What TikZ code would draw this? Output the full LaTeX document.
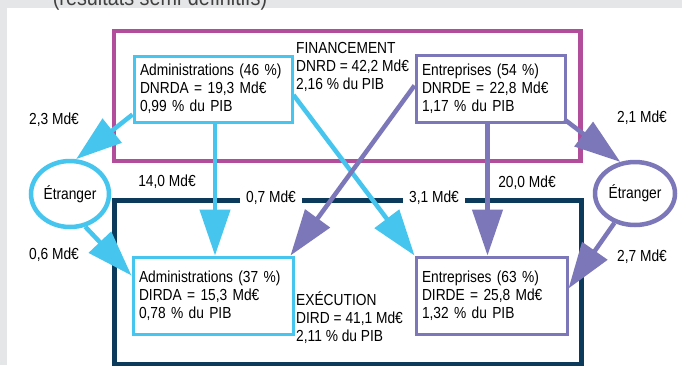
\documentclass[tikz,border=0pt]{standalone}
\usepackage{fontspec}
\setmainfont{Liberation Sans}[FakeStretch=0.86]
\usetikzlibrary{arrows.meta,shapes.geometric}

\definecolor{bggray}{RGB}{229,230,231}
\definecolor{finmag}{RGB}{177,77,155}
\definecolor{execnavy}{RGB}{12,58,90}
\definecolor{admcyan}{RGB}{70,198,238}
\definecolor{entpurple}{RGB}{123,119,184}

\tikzset{
	sector/.style={line width=3pt,fill=white,align=left,inner sep=6pt,text width=#1},
	abroad/.style={ellipse,line width=4.5pt,fill=white,minimum width=78pt,minimum height=66pt,inner sep=0pt},
	flow/.style={line width=4.5pt,-{Triangle[length=46pt,width=30pt]}},
}

\begin{document}
\begin{tikzpicture}[x=1pt,y=-1pt,font=\fontsize{16}{18}\selectfont]
		\useasboundingbox (0,0) rectangle (682,365);
		\fill[bggray] (0,0) rectangle (682,365);
		\fill[white] (7,8) rectangle (682,365);
		\node[text=black!75,anchor=base,font=\fontsize{23}{26}\selectfont] (subtitle) at (160,5) {(résultats semi-définitifs)};
		\draw[finmag,line width=4.5pt] (114,31) rectangle (580.5,161);
		\draw[execnavy,line width=5pt] (114.5,200) rectangle (581.5,364);
		% financement
		\node[sector=146pt,draw=admcyan,minimum height=66pt] (adminF) at (213,89) {Administrations (46 \%)\\DNRDA = 19,3 Md€\\0,99 \% du PIB};
		\node[sector=137pt,draw=entpurple,minimum height=67pt] (entF) at (490.5,88.5) {Entreprises (54 \%)\\DNRDE = 22,8 Md€\\1,17 \% du PIB};
		\node[align=left,anchor=west,inner sep=0pt] (fin) at (296,67) {FINANCEMENT\\DNRD = 42,2 Md€\\2,16 \% du PIB};
		% execution
		\node[sector=148pt,draw=admcyan,minimum height=77pt] (adminE) at (213,295.5) {Administrations (37 \%)\\DIRDA = 15,3 Md€\\0,78 \% du PIB};
		\node[sector=139pt,draw=entpurple,minimum height=77pt] (entE) at (491.5,295.5) {Entreprises (63 \%)\\DIRDE = 25,8 Md€\\1,32 \% du PIB};
		\node[align=left,anchor=west,inner sep=0pt] (exe) at (296,318) {EXÉCUTION\\DIRD = 41,1 Md€\\2,11 \% du PIB};
		% etranger
		\node[abroad,draw=admcyan] (etrL) at (70,194) {Étranger};
		\node[abroad,draw=entpurple,minimum width=80pt,minimum height=63pt] (etrR) at (635,193.5) {Étranger};
		% montants
		\node (l23) at (54,120) {2,3 Md€};
		\node (l06) at (54,255) {0,6 Md€};
		\node (l140) at (167,182) {14,0 Md€};
		\node (l200) at (527,183) {20,0 Md€};
		\node (l21) at (642,118) {2,1 Md€};
		\node (l27) at (642,257) {2,7 Md€};
		\node[fill=white,inner xsep=6pt,inner ysep=1pt] (l07) at (271,198) {0,7 Md€};
		\node[fill=white,inner xsep=6pt,inner ysep=1pt] (l31) at (434,198) {3,1 Md€};
		% flux
		\draw[flow,admcyan] ([yshift=9pt]adminF.south west) -- (etrL.80);
		\draw[flow,admcyan] ([xshift=2pt]adminF.south) -- ([xshift=2pt]adminF.south |- adminE.north);
		\draw[flow,admcyan] ([yshift=-6pt]adminF.east) -- (entE.north west);
		\draw[flow,admcyan] (etrL.-65) -- ([yshift=20pt]adminE.west);
		\draw[flow,entpurple] ([yshift=3pt]entF.west) -- ([xshift=-4pt]adminE.north east);
		\draw[flow,entpurple] ([xshift=-3pt]entF.south) -- ([xshift=-3pt]entF.south |- entE.north);
		\draw[flow,entpurple] ([shift={(-2pt,4pt)}]entF.south east) -- (etrR.115);
		\draw[flow,entpurple] (etrR.-125) -- ([yshift=7pt]entE.east);
	\end{tikzpicture}
\end{document}
